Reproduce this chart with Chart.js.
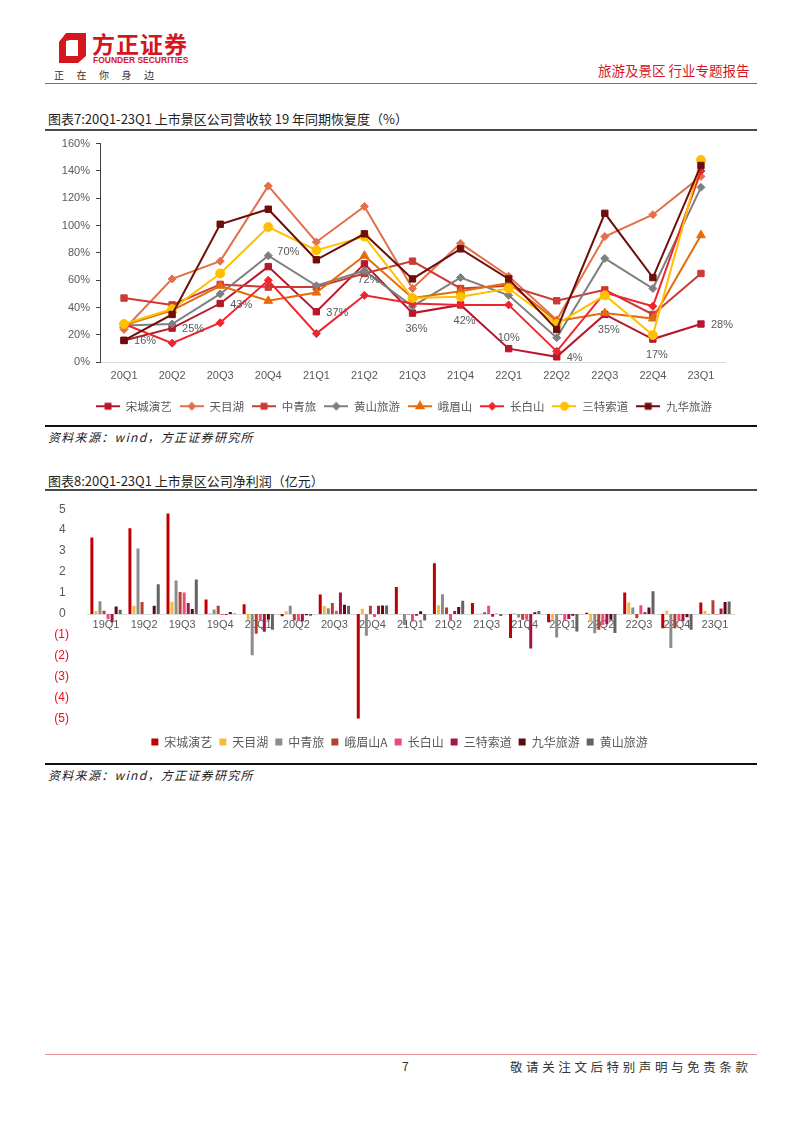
<!DOCTYPE html>
<html lang="zh">
<head>
    <meta charset="UTF-8">
    <meta name="viewport" content="width=device-width, initial-scale=1.0">
    <title>旅游及景区 行业专题报告</title>
    <script src="https://cdn.jsdelivr.net/npm/chart.js"></script>
    <style>
        body {
            margin: 0;
            background-color: white;
            font-family: "Noto Sans CJK SC", sans-serif;
        }

        .page {
            position: relative;
            width: 802px;
            height: 1133px;
            overflow: hidden;
        }

        .abs {
            position: absolute;
            white-space: nowrap;
        }

        .brand {
            left: 92px; top: 26px;
            font-size: 23px; font-weight: bold; color: #d4161f;
            letter-spacing: 1px;
        }

        .brand-en {
            left: 93px; top: 55px;
            font-family: "Liberation Sans", Arial, sans-serif;
            font-size: 8.5px; font-weight: bold; color: #d4161f;
        }

        .slogan {
            left: 54px; top: 67px;
            font-size: 10px; color: #333;
            letter-spacing: 12.5px;
        }

        .report {
            left: 598px; top: 60px;
            font-size: 13.5px; color: #d4161f;
        }

        .rule { position: absolute; left: 45px; width: 712px; }

        .title {
            left: 48px;
            font-size: 13px; color: #222;
        }

        .source {
            left: 48px;
            font-size: 12px; color: #222;
            font-style: italic;
            letter-spacing: 1.3px;
        }

        .chart-box { position: absolute; left: 45px; }
    </style>
</head>
<body>
<div class="page">
    <!-- header -->
    <svg class="abs" style="left:56px; top:30px;" width="34" height="36" viewBox="0 0 34 36">
        <path d="M10 3 L30 3 L30 26 L22 33 L3 33 L3 12 Z M10 11 L10 26 L22 26 L22 10 L14 10 Z" fill="#d4161f" fill-rule="evenodd"/>
    </svg>
    <div class="abs brand">方正证券</div>
    <div class="abs brand-en">FOUNDER SECURITIES</div>
    <div class="abs slogan">正在你身边</div>
    <div class="abs report">旅游及景区&nbsp;行业专题报告</div>
    <div class="rule" style="top:83px; height:1px; background:#e0404a;"></div>

    <!-- chart 7 -->
    <div class="abs title" style="top:109px;">图表7:20Q1-23Q1 上市景区公司营收较 19 年同期恢复度（%）</div>
    <div class="rule" style="top:129px; height:2px; background:#4a4a4a;"></div>
    <div class="chart-box" style="top:131px; width:784px; height:292px;">
        <canvas id="recoveryChart"></canvas>
    </div>
    <div class="rule" style="top:425px; height:1.5px; background:#111;"></div>
    <div class="abs source" style="top:428px;">资料来源：wind，方正证券研究所</div>

    <!-- chart 8 -->
    <div class="abs title" style="top:471px;">图表8:20Q1-23Q1 上市景区公司净利润（亿元）</div>
    <div class="rule" style="top:489px; height:2px; background:#4a4a4a;"></div>
    <div class="chart-box" style="top:492px; width:732px; height:268px;">
        <canvas id="profitChart"></canvas>
    </div>
    <div class="rule" style="top:763px; height:1.5px; background:#111;"></div>
    <div class="abs source" style="top:766px;">资料来源：wind，方正证券研究所</div>

    <!-- footer -->
    <div class="rule" style="top:1054px; height:1px; background:#e8909e;"></div>
    <div class="abs" style="left:402px; top:1057px; font-size:12px; color:#333;">7</div>
    <div class="abs" style="left:510px; top:1057px; font-size:12.5px; color:#333; letter-spacing:3.6px;">敬请关注文后特别声明与免责条款</div>
</div>

<script>
    // ---- chart 7 data: revenue vs same quarter of 2019 (%) ----
    const quarters1 = ['20Q1', '20Q2', '20Q3', '20Q4', '21Q1', '21Q2', '21Q3', '21Q4', '22Q1', '22Q2', '22Q3', '22Q4', '23Q1'];
    const songcheng1 = [16, 25, 43, 70, 37, 72, 36, 42, 10, 4, 35, 17, 28];
    const tianmuhu1 = [24, 61, 74, 129, 88, 114, 54, 87, 63, 31, 92, 108, 136];
    const zhongqinglv1 = [47, 42, 57, 55, 55, 65, 74, 54, 56, 45, 53, 35, 65];
    const huangshan1 = [27, 28, 50, 78, 56, 67, 41, 62, 49, 18, 76, 54, 128];
    const emeishan1 = [27, 38, 56, 45, 51, 78, 47, 52, 58, 30, 36, 32, 93];
    const changbaishan1 = [28, 14, 29, 60, 21, 49, 43, 42, 42, 8, 51, 41, 140];
    const sante1 = [28, 39, 65, 99, 82, 92, 47, 48, 54, 28, 49, 20, 148];
    const jiuhua1 = [16, 35, 101, 112, 75, 94, 61, 83, 61, 24, 109, 62, 144];
    // where each 宋城演艺 value label sits: r=right, b=below, a=above, ur=up-right
    const songchengLabelPos = ['r', 'r', 'r', 'ur', 'r', 'b', 'b', 'b', 'a', 'r', 'b', 'b', 'r'];

    // ---- chart 8 data: net profit (100m yuan) ----
    const quarters2 = ['19Q1', '19Q2', '19Q3', '19Q4', '20Q1', '20Q2', '20Q3', '20Q4', '21Q1', '21Q2', '21Q3', '21Q4', '22Q1', '22Q2', '22Q3', '22Q4', '23Q1'];
    const songcheng2 = [3.65, 4.09, 4.80, 0.69, 0.47, -0.11, 0.93, -5.00, 1.29, 2.42, 0.52, -1.15, -0.39, 0.06, 1.02, -0.68, 0.55];
    const tianmuhu2 = [0.14, 0.39, 0.58, 0.03, -0.28, 0.13, 0.38, 0.25, 0.01, 0.42, 0.01, 0.03, -0.28, -0.36, 0.55, 0.16, 0.15];
    const zhongqinglv2 = [0.61, 3.13, 1.60, 0.22, -1.97, 0.39, 0.28, -1.04, -0.52, 0.94, 0.01, -0.17, -1.12, -0.92, 0.31, -1.62, -0.02];
    const emeishanA2 = [0.16, 0.57, 1.05, 0.39, -0.94, -0.31, 0.52, 0.39, -0.02, 0.31, 0.08, -0.28, -0.02, -0.75, -0.20, -0.68, 0.66];
    const changbaishan2 = [-0.25, 0.00, 1.02, -0.05, -0.31, -0.31, 0.16, -0.14, -0.36, -0.31, 0.39, -0.28, -0.33, -0.52, 0.42, -0.31, -0.02];
    const sante2 = [-0.39, 0.00, 0.53, -0.05, -0.85, -0.35, 1.02, 0.39, -0.08, 0.14, -0.13, -1.65, -0.24, -0.49, 0.08, -0.33, 0.26];
    const jiuhua2 = [0.36, 0.39, 0.24, 0.09, -0.28, -0.06, 0.44, 0.40, 0.13, 0.33, 0.01, 0.08, -0.08, -0.28, 0.31, -0.16, 0.57];
    const huangshan2 = [0.20, 1.42, 1.65, 0.02, -0.75, -0.08, 0.39, 0.41, -0.31, 0.63, -0.09, 0.14, -0.83, -0.91, 1.08, -0.75, 0.60];

    const tickFont = { family: '"Liberation Sans", Arial, sans-serif', size: 11 };
    const cjkFont = { family: '"Noto Sans CJK SC", sans-serif', size: 11.5 };

    // empty axis on the right: keeps the plot where it is while the legend centres further right
    function spacerAxis(w) {
        return {
            position: 'right',
            display: true,
            grid: { display: false },
            border: { display: false },
            ticks: { display: false },
            afterFit: scale => { scale.width = w; }
        };
    }

    // small canvas with a line through a marker, for the line-chart legend
    function legendIcon(color, style, radius) {
        const c = document.createElement('canvas');
        c.width = 24;
        c.height = 12;
        const ctx = c.getContext('2d');
        ctx.strokeStyle = color;
        ctx.fillStyle = color;
        ctx.lineWidth = 2;
        ctx.beginPath();
        ctx.moveTo(0, 6);
        ctx.lineTo(24, 6);
        ctx.stroke();
        Chart.helpers.drawPoint(ctx, { pointStyle: style, radius: radius, borderWidth: 1 }, 12, 6);
        return c;
    }

    function lineSeries(label, data, color, style, radius, idx) {
        return {
            label: label,
            data: data,
            yAxisID: 'y',
            borderColor: color,
            backgroundColor: color,
            borderWidth: 2,
            pointStyle: style,
            pointRadius: radius,
            pointBorderWidth: 1,
            tension: 0,
            order: 10 - idx // later series on top, like the original
        };
    }

    const recoverySets = [
        lineSeries('宋城演艺', songcheng1, '#b8172b', 'rect', 4.5, 0),
        lineSeries('天目湖', tianmuhu1, '#e2704a', 'rectRot', 4, 1),
        lineSeries('中青旅', zhongqinglv1, '#cc3a36', 'rect', 4.5, 2),
        lineSeries('黄山旅游', huangshan1, '#7f7f7f', 'rectRot', 4, 3),
        lineSeries('峨眉山', emeishan1, '#e46c0a', 'triangle', 5, 4),
        lineSeries('长白山', changbaishan1, '#f0232e', 'rectRot', 4, 5),
        lineSeries('三特索道', sante1, '#ffc000', 'circle', 4.5, 6),
        lineSeries('九华旅游', jiuhua1, '#6e0e0a', 'rect', 4.5, 7)
    ];

    // value labels for 宋城演艺
    const songchengLabels = {
        id: 'songchengLabels',
        afterDatasetsDraw(chart) {
            const ctx = chart.ctx;
            const meta = chart.getDatasetMeta(0);
            ctx.save();
            ctx.font = '11px "Liberation Sans", Arial, sans-serif';
            ctx.fillStyle = '#595959';
            ctx.textBaseline = 'middle';
            meta.data.forEach((pt, i) => {
                const text = songcheng1[i] + '%';
                const pos = songchengLabelPos[i];
                if (pos === 'r') {
                    ctx.textAlign = 'left';
                    ctx.fillText(text, pt.x + 10, pt.y + 1);
                } else if (pos === 'ur') {
                    ctx.textAlign = 'left';
                    ctx.fillText(text, pt.x + 9, pt.y - 15);
                } else if (pos === 'a') {
                    ctx.textAlign = 'center';
                    ctx.fillText(text, pt.x, pt.y - 11);
                } else {
                    ctx.textAlign = 'center';
                    ctx.fillText(text, pt.x + 4, pt.y + 16);
                }
            });
            ctx.restore();
        }
    };

    new Chart(document.getElementById('recoveryChart'), {
        type: 'line',
        data: { labels: quarters1, datasets: recoverySets },
        options: {
            responsive: true,
            maintainAspectRatio: false,
            animation: false,
            layout: { padding: { top: 6, right: 66, left: 0, bottom: 1 } },
            plugins: {
                tooltip: { enabled: false },
                legend: {
                    position: 'bottom',
                    labels: {
                        usePointStyle: true,
                        pointStyleWidth: 24,
                        padding: 8,
                        color: '#595959',
                        font: cjkFont,
                        generateLabels: chart => chart.data.datasets.map((ds, i) => ({
                            text: ds.label,
                            datasetIndex: i,
                            pointStyle: legendIcon(ds.borderColor, ds.pointStyle, ds.pointRadius - 1),
                            fillStyle: ds.borderColor,
                            strokeStyle: ds.borderColor,
                            lineWidth: 0,
                            fontColor: '#595959',
                            hidden: false
                        }))
                    }
                }
            },
            scales: {
                x: {
                    offset: true,
                    grid: { display: false, drawTicks: false },
                    border: { color: '#d9d9d9', width: 1 },
                    ticks: { color: '#595959', font: tickFont, padding: 7, maxRotation: 0 },
                    afterFit: scale => { scale.height += 3; }
                },
                y: {
                    min: 0,
                    max: 160,
                    ticks: { stepSize: 20, color: '#595959', font: tickFont, padding: 6, callback: v => v + '%' },
                    grid: { drawOnChartArea: false, tickLength: 4, color: '#404040' },
                    border: { color: '#404040', width: 1 },
                    afterFit: scale => { scale.width = 55; }
                },
                ySpacer: spacerAxis(38)
            }
        },
        plugins: [songchengLabels]
    });

    // ---- chart 8 ----
    function barSeries(label, data, color) {
        return {
            label: label,
            data: data,
            yAxisID: 'y',
            backgroundColor: color,
            borderWidth: 0,
            barPercentage: 0.74,
            categoryPercentage: 0.85
        };
    }

    new Chart(document.getElementById('profitChart'), {
        type: 'bar',
        data: {
            labels: quarters2,
            datasets: [
                barSeries('宋城演艺', songcheng2, '#c00000'),
                barSeries('天目湖', tianmuhu2, '#f6b93b'),
                barSeries('中青旅', zhongqinglv2, '#8c8c8c'),
                barSeries('峨眉山A', emeishanA2, '#b0432c'),
                barSeries('长白山', changbaishan2, '#eb4c7f'),
                barSeries('三特索道', sante2, '#a3173f'),
                barSeries('九华旅游', jiuhua2, '#5c0a10'),
                barSeries('黄山旅游', huangshan2, '#636363')
            ]
        },
        options: {
            responsive: true,
            maintainAspectRatio: false,
            animation: false,
            layout: { padding: { top: 15, right: 23, left: 0, bottom: 2 } },
            plugins: {
                tooltip: { enabled: false },
                legend: {
                    position: 'bottom',
                    title: { display: true, text: ' ', font: { size: 1 }, padding: { top: 9, bottom: 0 } },
                    labels: {
                        boxWidth: 7,
                        boxHeight: 7,
                        padding: 7,
                        color: '#595959',
                        font: { family: '"Noto Sans CJK SC", sans-serif', size: 12 }
                    }
                }
            },
            scales: {
                x: {
                    position: { y: 0 },
                    grid: { display: false, drawTicks: false },
                    border: { color: '#d9d9d9', width: 1 },
                    ticks: { color: '#595959', font: tickFont, padding: 4, maxRotation: 0 }
                },
                y: {
                    min: -5,
                    max: 5,
                    grid: { display: false },
                    border: { display: false },
                    ticks: {
                        stepSize: 1,
                        padding: 10,
                        font: { family: '"Liberation Sans", Arial, sans-serif', size: 12 },
                        color: ctx => ctx.tick.value < 0 ? '#e8101a' : '#595959',
                        callback: v => v < 0 ? '(' + (-v) + ')' : v + ' '
                    },
                    afterFit: scale => { scale.width = 42; }
                },
                ySpacer: spacerAxis(20)
            }
        }
    });
</script>
</body>
</html>
